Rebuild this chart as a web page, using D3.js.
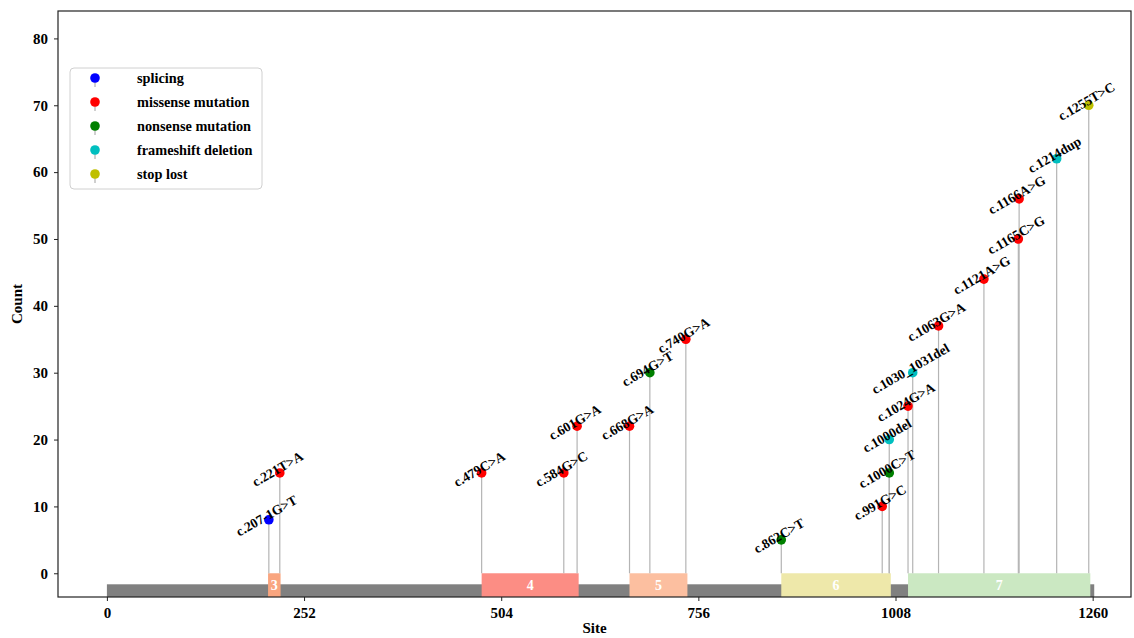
<!DOCTYPE html>
<html>
<head>
<meta charset="utf-8">
<script src="https://cdn.jsdelivr.net/npm/d3@7"></script>
<style>
  html, body { margin: 0; padding: 0; background: #fff; }
  svg { display: block; }
  text { font-family: "Liberation Serif", "Times New Roman", serif; font-weight: bold; }
</style>
</head>
<body>
<svg id="chart" width="1134" height="638"></svg>
<script>
// ---- data ----
const mutationLabels = ["c.207-1G>T","c.221T>A","c.479C>A","c.584G>C","c.601G>A","c.668G>A","c.694G>T","c.740G>A","c.862C>T","c.991G>C","c.1000C>T","c.1000del","c.1024G>A","c.1030_1031del","c.1063G>A","c.1121A>G","c.1165C>G","c.1166A>G","c.1214dup","c.1255T>C"];
const mutationSites = [207,221,479,584,601,668,694,740,862,991,1000,1000,1024,1030,1063,1121,1165,1166,1214,1255];
const mutationCounts = [8,15,15,15,22,22,30,35,5,10,15,20,25,30,37,44,50,56,62,70];
const mutationTypes = ["splicing","missense mutation","missense mutation","missense mutation","missense mutation","missense mutation","nonsense mutation","missense mutation","nonsense mutation","missense mutation","nonsense mutation","frameshift deletion","missense mutation","frameshift deletion","missense mutation","missense mutation","missense mutation","missense mutation","frameshift deletion","stop lost"];

const typeNames = ["splicing","missense mutation","nonsense mutation","frameshift deletion","stop lost"];
const typeColors = ["#0000ff","#ff0000","#008000","#00bfbf","#bfbf00"];

const exonNames = ["3","4","5","6","7"];
const exonStarts = [206,479,668,862,1024];
const exonEnds = [222,603,742,1002,1257];
const exonColors = ["#f9a57f","#fc8d84","#fcbfa0","#eee8aa","#cbe8c2"];

const proteinLength = 1262;
const xTicks = [0,252,504,756,1008,1260];
const yTicks = [0,10,20,30,40,50,60,70,80];

// ---- layout ----
const svg = d3.select("#chart");
const mLeft = 58, mRight = 1131, mTop = 11, mBottom = 597;

const x = d3.scaleLinear().domain([-62.5, 1309]).range([mLeft, mRight]);
const y = d3.scaleLinear().domain([-3.55, 84.1]).range([mBottom, mTop]);

const color = d3.scaleOrdinal().domain(typeNames).range(typeColors);

// backbone
svg.append("rect")
  .attr("x", x(0)).attr("width", x(proteinLength) - x(0))
  .attr("y", y(-1.65)).attr("height", y(-3.55) - y(-1.65))
  .attr("fill", "#808080");

// exons
const exons = exonNames.map((n, i) => ({name: n, s: exonStarts[i], e: exonEnds[i], c: exonColors[i]}));
svg.selectAll("rect.exon").data(exons).enter().append("rect")
  .attr("class", "exon")
  .attr("x", d => x(d.s)).attr("width", d => x(d.e) - x(d.s))
  .attr("y", y(0)).attr("height", y(-3.55) - y(0))
  .attr("fill", d => d.c);
svg.selectAll("text.exon").data(exons).enter().append("text")
  .attr("class", "exon")
  .attr("x", d => (x(d.s) + x(d.e)) / 2)
  .attr("y", y(-1.75))
  .attr("dy", "0.35em")
  .attr("text-anchor", "middle")
  .attr("fill", "#fff")
  .attr("font-size", 14)
  .text(d => d.name);

// mutations
const muts = mutationLabels.map((l, i) => ({label: l, site: mutationSites[i], count: mutationCounts[i], type: mutationTypes[i]}));

svg.selectAll("line.stem").data(muts).enter().append("line")
  .attr("class", "stem")
  .attr("x1", d => x(d.site)).attr("x2", d => x(d.site))
  .attr("y1", y(0)).attr("y2", d => y(d.count))
  .attr("stroke", "#b4b4b4").attr("stroke-width", 1.2);

svg.selectAll("circle.mut").data(muts).enter().append("circle")
  .attr("class", "mut")
  .attr("cx", d => x(d.site)).attr("cy", d => y(d.count))
  .attr("r", 4.8)
  .attr("fill", d => color(d.type));

svg.selectAll("text.mut").data(muts).enter().append("text")
  .attr("class", "mut")
  .attr("transform", d => `translate(${x(d.site)},${y(d.count)}) rotate(-30)`)
  .attr("text-anchor", "middle")
  .attr("dy", "0em")
  .attr("font-size", 13.5)
  .attr("fill", "#000")
  .text(d => d.label);

// axes
const xAxis = d3.axisBottom(x).tickValues(xTicks).tickSize(4).tickPadding(6).tickFormat(d3.format("d"));
const yAxis = d3.axisLeft(y).tickValues(yTicks).tickSize(4).tickPadding(6).tickFormat(d3.format("d"));

const gx = svg.append("g").attr("transform", `translate(0,${mBottom})`).call(xAxis);
const gy = svg.append("g").attr("transform", `translate(${mLeft},0)`).call(yAxis);
[gx, gy].forEach(g => {
  g.select(".domain").remove();
  g.selectAll(".tick line").attr("stroke", "#222").attr("stroke-width", 1);
  g.selectAll(".tick text").attr("font-size", 15).attr("fill", "#000")
    .attr("font-family", "'Liberation Serif', 'Times New Roman', serif").attr("font-weight", "bold");
});

// frame
svg.append("rect")
  .attr("x", mLeft).attr("y", mTop).attr("width", mRight - mLeft).attr("height", mBottom - mTop)
  .attr("fill", "none").attr("stroke", "#222").attr("stroke-width", 1.2);

// axis labels
svg.append("text").attr("x", (mLeft + mRight) / 2).attr("y", 633)
  .attr("text-anchor", "middle").attr("font-size", 15).text("Site");
svg.append("text").attr("transform", `translate(22,${(mTop + mBottom) / 2}) rotate(-90)`)
  .attr("text-anchor", "middle").attr("font-size", 15).text("Count");

// legend
const lg = svg.append("g").attr("transform", "translate(70,68)");
lg.append("rect").attr("width", 192).attr("height", 121).attr("rx", 4)
  .attr("fill", "#fff").attr("stroke", "#d0d0d0").attr("stroke-width", 1);
typeNames.forEach((t, i) => {
  const yy = 10 + i * 24;
  lg.append("line").attr("x1", 25).attr("x2", 25).attr("y1", yy).attr("y2", yy + 9)
    .attr("stroke", "#a0a0a0").attr("stroke-width", 1);
  lg.append("circle").attr("cx", 25).attr("cy", yy).attr("r", 4.8).attr("fill", typeColors[i]);
  lg.append("text").attr("x", 67).attr("y", yy).attr("dy", "0.35em")
    .attr("font-size", 14.3).text(t);
});
</script>
</body>
</html>
